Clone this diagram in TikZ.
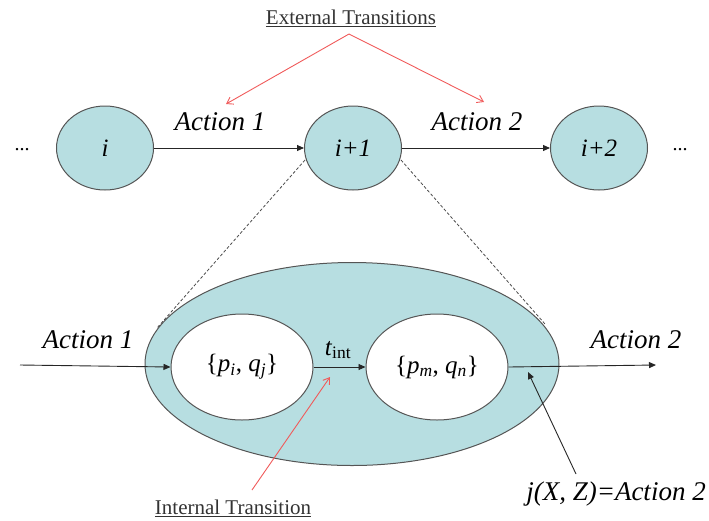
\documentclass[tikz,border=0pt]{standalone}
\usepackage{fontspec}
\setmainfont{Liberation Serif}
\usetikzlibrary{arrows.meta,shapes.geometric}
\definecolor{teal1}{HTML}{B7DEE1}
\definecolor{edge}{HTML}{555555}
\definecolor{redarr}{HTML}{F05A5A}
\newcommand{\sbs}[1]{\textsubscript{\itshape #1}}
\begin{document}
\begin{tikzpicture}[x=1pt,y=-1pt,
  st/.style={ellipse,draw=edge,line width=1pt,fill=teal1,minimum width=97pt,minimum height=84pt,inner sep=0pt,font=\fontsize{25}{27}\selectfont\itshape},
  inn/.style={ellipse,draw=edge,line width=1pt,fill=white,minimum width=142pt,minimum height=106pt,inner sep=0pt,font=\fontsize{25}{27}\selectfont},
  lab/.style={font=\fontsize{27}{29}\selectfont\itshape},
  arr/.style={-{Triangle[length=7pt,width=6pt]},line width=0.9pt,black!85},
  rarr/.style={-{Straight Barb[length=6pt,width=8pt]},line width=0.9pt,redarr},
  ul/.style={font=\fontsize{21}{23}\selectfont,text=black!80}]
\useasboundingbox (0,0) rectangle (709,520);
% big ellipse
\node[ellipse,draw=edge,line width=1pt,fill=teal1,minimum width=414pt,minimum height=203pt,inner sep=0pt] (big) at (352,364) {};
% top states
\node[st] (s1) at (105,148) {i};
\node[st] (s2) at (353,148) {i+1};
\node[st] (s3) at (599,148) {i+2};
\node[font=\fontsize{20}{22}\selectfont] (d1) at (22,150) {...};
\node[font=\fontsize{20}{22}\selectfont] (d2) at (680,150) {...};
\draw[arr] (s1) -- (s2);
\draw[arr] (s2) -- (s3);
\node[lab] (a1) at (220,122) {Action 1};
\node[lab] (a2) at (477,122) {Action 2};
% external transitions
\node[ul] (ext) at (351,18) {\underline{External Transitions}};
\coordinate (et) at (349,34);
\coordinate (ea1) at (226,104);
\coordinate (ea2) at (484,102);
\draw[rarr] (et) -- (ea1);
\draw[rarr] (et) -- (ea2);
% dashed zoom lines
\coordinate (z1a) at (305,160);
\coordinate (z1b) at (157,328);
\coordinate (z2a) at (401,160);
\coordinate (z2b) at (545,324);
\draw[dashed,line width=0.8pt,black!70,dash pattern=on 3pt off 2pt] (z1a) -- (z1b);
\draw[dashed,line width=0.8pt,black!70,dash pattern=on 3pt off 2pt] (z2a) -- (z2b);
% inner states
\node[inn] (e1) at (242,367) {\{\textit{p}\sbs{i}, \textit{q}\sbs{j}\}};
\node[inn] (e2) at (437,367) {\{\textit{p}\sbs{m}, \textit{q}\sbs{n}\}};
\coordinate (in0) at (20,365);
\coordinate (out0) at (656,365);
\draw[arr] (in0) -- (e1.west);
\draw[arr] (e1.east) -- (e2.west);
\draw[arr] (e2.east) -- (out0);
\node[lab] (b1) at (88,340) {Action 1};
\node[lab] (b2) at (636,340) {Action 2};
\node[font=\fontsize{25}{27}\selectfont] (tint) at (338,350) {\textit{t}\textsubscript{int}};
% internal transition
\node[ul] (itl) at (233,508) {\underline{Internal Transition}};
\coordinate (ita) at (252,490);
\coordinate (itb) at (330,377);
\draw[rarr] (ita) -- (itb);
% j label
\node[lab] (jl) at (616,494) {j(X, Z)=Action 2};
\coordinate (ja) at (576,474);
\coordinate (jb) at (528,372);
\draw[arr] (ja) -- (jb);
\end{tikzpicture}
\end{document}
